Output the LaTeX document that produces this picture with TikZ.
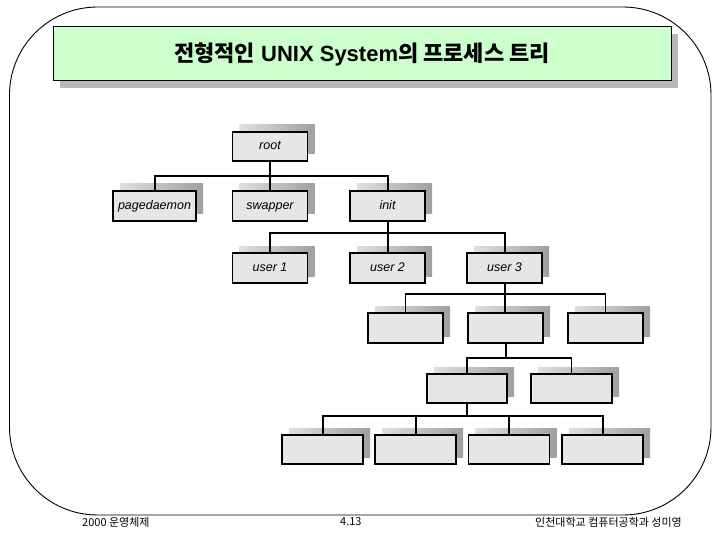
\documentclass[tikz,border=0pt]{standalone}
\usepackage{fontspec}
\setmainfont{Liberation Sans}
\newfontfamily\kr{Noto Sans CJK KR}
\usetikzlibrary{shadows}
\definecolor{boxgray}{HTML}{E6E6E6}
\definecolor{titlegreen}{HTML}{CCFFCC}
\tikzset{
  pbox/.style={draw=black, line width=1.2pt, fill=boxgray, minimum width=75pt, minimum height=30pt,
    inner sep=0pt, text height=9pt, text depth=2.6pt, font=\itshape\fontsize{12.5}{14}\selectfont,
    general shadow={shadow xshift=7pt, shadow yshift=7pt, left color=gray!25, right color=gray!75, draw=none}},
  tree/.style={line width=2pt},
  thin tree/.style={line width=1.6pt},
  foot/.style={font=\kr\fontsize{11}{13}\selectfont, inner sep=0pt, anchor=west}
}
\begin{document}
\begin{tikzpicture}[x=1pt,y=-1pt]
\useasboundingbox (0,0) rectangle (720,540);
% frame
\draw[line width=0.9pt, rounded corners=88pt] (9.5,7) rectangle (711,515);
% title
\node[draw=black, line width=1pt, fill=titlegreen, minimum width=618pt, minimum height=54pt, inner sep=0pt,
  general shadow={shadow xshift=7pt, shadow yshift=-7pt, fill=gray!55, draw=none}]
  (title) at (362,54) {\fontsize{22}{26}\selectfont\bfseries{\kr 전형적인} UNIX System{\kr 의 프로세스 트리}};
% nodes
\node[pbox, minimum height=29pt] (root) at (270,146.5) {root};
\node[pbox, minimum width=83pt] (pd) at (154.5,206) {pagedaemon};
\node[pbox] (sw) at (270,206) {swapper};
\node[pbox] (init) at (387.5,206) {init};
\node[pbox] (u1) at (270,268) {user 1};
\node[pbox] (u2) at (387.5,268) {user 2};
\node[pbox] (u3) at (504.5,268) {user 3};
\node[pbox] (c1) at (405.5,328) {};
\node[pbox] (c2) at (505.5,328) {};
\node[pbox] (c3) at (605.5,328) {};
\node[pbox, minimum width=80pt, minimum height=29pt] (d1) at (467,388.5) {};
\node[pbox, minimum width=81pt, minimum height=29pt] (d2) at (571.5,388.5) {};
\node[pbox, minimum width=81pt, minimum height=29pt] (e1) at (322.5,449.5) {};
\node[pbox, minimum width=81pt, minimum height=29pt] (e2) at (415.5,449.5) {};
\node[pbox, minimum width=81pt, minimum height=29pt] (e3) at (509,449.5) {};
\node[pbox, minimum width=81pt, minimum height=29pt] (e4) at (602.5,449.5) {};
% bar levels
\coordinate (b1) at (0,176);
\coordinate (b2) at (0,233);
\coordinate (b3) at (0,294);
\coordinate (b4) at (0,358);
\coordinate (b5) at (0,416);
% connectors
\draw[tree] (root.south) -- (sw.north);
\draw[tree] (pd.north) -- (pd.north |- b1) -- (init.north |- b1) -- (init.north);
\draw[tree] (init.south) -- (u2.north);
\draw[tree] (u1.north) -- (u1.north |- b2) -- (u3.north |- b2) -- (u3.north);
\draw[tree] (u3.south) -- (u3.south |- c2.north);
\draw[thin tree] (c1.north) -- (c1.north |- b3) -- (c3.north |- b3) -- (c3.north);
\draw[tree] (c2.south) -- (c2.south |- b4);
\draw[thin tree] (d1.north) -- (d1.north |- b4) -- (d2.north |- b4) -- (d2.north);
\draw[tree] (d1.south) -- (d1.south |- b5);
\draw[tree] (e1.north) -- (e1.north |- b5) -- (e4.north |- b5) -- (e4.north);
\draw[tree] (e2.north) -- (e2.north |- b5);
\draw[tree] (e3.north) -- (e3.north |- b5);
% footer
\node[foot] (f1) at (82,522) {2000 운영체제};
\node[foot] (f2) at (340,522) {4.13};
\node[foot] (f3) at (535,522) {인천대학교 컴퓨터공학과 성미영};
\end{tikzpicture}
\end{document}
